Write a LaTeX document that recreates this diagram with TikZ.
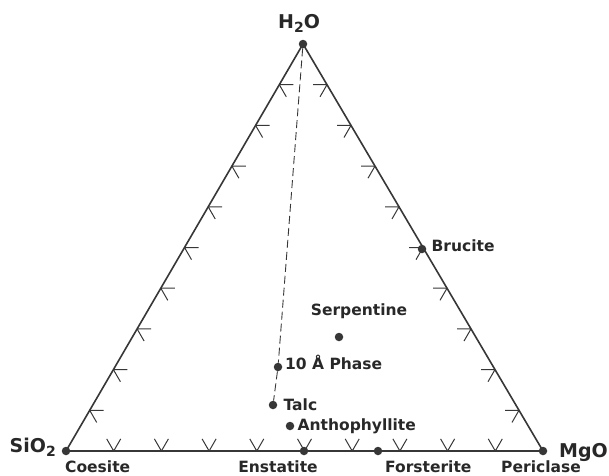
\documentclass[tikz,border=0pt]{standalone}
\usepackage{fontspec}
\setmainfont{DejaVu Sans}
\usetikzlibrary{calc,positioning}
\definecolor{inkgray}{RGB}{55,55,55}
\definecolor{textgray}{RGB}{40,40,40}
\newcommand{\subtwo}{\raisebox{-0.45ex}{\fontsize{14}{14}\selectfont 2}}

\begin{document}
\begin{tikzpicture}[x=1pt,y=-1pt,
    side/.style={draw=inkgray, line width=1.6pt, line join=round},
    tick/.style={draw=inkgray, line width=1pt},
    tieline/.style={draw=inkgray, line width=0.9pt, dash pattern=on 8pt off 4pt},
    phase/.style={circle, fill=inkgray, inner sep=0pt, minimum size=8.5pt},
    lbl/.style={font=\bfseries\fontsize{15.5}{17}\selectfont, text=textgray, inner sep=0pt},
    oxide/.style={lbl, font=\bfseries\fontsize{19}{21}\selectfont}]
\useasboundingbox (0,0) rectangle (609,475);

% end members
\node[phase] (water) at (303,44) {};
\node[phase] (silica) at (66,451) {};
\node[phase] (magnesia) at (543,451) {};
\draw[side] (water.center) -- (silica.center) -- (magnesia.center) -- cycle;

% tenth marks on the three sides
\foreach \k in {1,...,9} {
  \draw[tick] ($(water)!\k/10!(silica)$) -- ++(0:14pt)
              ($(water)!\k/10!(silica)$) -- ++(-60:14pt);
  \draw[tick] ($(silica)!\k/10!(magnesia)$) -- ++(60:14pt)
              ($(silica)!\k/10!(magnesia)$) -- ++(120:14pt);
  \draw[tick] ($(water)!\k/10!(magnesia)$) -- ++(180:14pt)
              ($(water)!\k/10!(magnesia)$) -- ++(240:14pt);
}

% phases
\node[phase] (enstatite) at (304,451) {};
\node[phase] (forsterite) at (378,451) {};
\node[phase] (brucite) at (422,249) {};
\node[phase] (serpentine) at (339,337) {};
\node[phase] (tenA) at (278,367) {};
\node[phase] (talc) at (273,405) {};
\node[phase] (anthophyllite) at (290,426) {};

\draw[tieline] (water) -- (tenA) -- (talc);

% labels
\node[oxide, anchor=base] (waterlbl) at (299,28) {H\subtwo O};
\node[oxide, anchor=base east] (silicalbl) at (56,452) {SiO\subtwo};
\node[oxide, anchor=base west] (magnesialbl) at (559,457) {MgO};
\node[lbl, anchor=base west] (coesitelbl) at (65,472) {Coesite};
\node[lbl, anchor=base] (enstatitelbl) at (278,472) {Enstatite};
\node[lbl, anchor=base west] (forsteritelbl) at (385,472) {Forsterite};
\node[lbl, anchor=base] (periclaselbl) at (541,472) {Periclase};
\node[lbl, right=5pt of brucite, yshift=3pt] (brucitelbl) {Brucite};
\node[lbl, anchor=base] (serpentinelbl) at (359,315) {Serpentine};
\node[lbl, anchor=base west] (tenAlbl) at (285,369) {10 Å Phase};
\node[lbl, right=6pt of talc] (talclbl) {Talc};
\node[lbl, right=3pt of anthophyllite] (anthophyllitelbl) {Anthophyllite};
\end{tikzpicture}
\end{document}
